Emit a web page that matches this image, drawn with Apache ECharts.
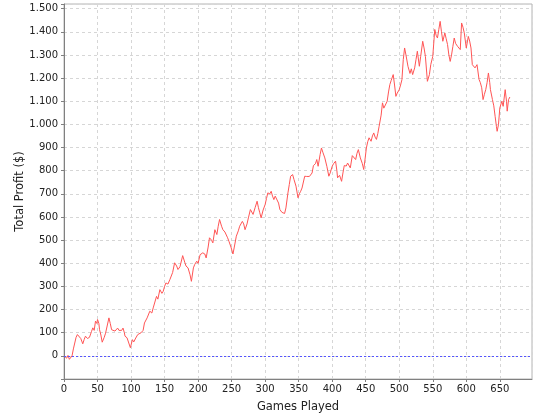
<!DOCTYPE html>
<html>
<head>
<meta charset="utf-8">
<script src="https://cdn.jsdelivr.net/npm/echarts@6/dist/echarts.min.js"></script>
<style>html,body{margin:0;padding:0;background:#fff}#c{width:540px;height:420px}</style>
</head>
<body>
<div id="c"></div>
<script>
var games = [0,2,4,6,8,10,12,14,16,18,20,22,25,28,30,32,35,38,41,43,45,47,49,50,52,53,55,57,60,62,64,67,69,71,73,76,78,80,82,84,86,88,90,91,94,96,99,102,104,107,110,112,115,118,120,122,124,126,128,131,133,135,138,140,143,146,148,150,152,155,158,160,162,165,168,170,173,177,180,182,185,188,190,193,195,198,200,203,207,210,212,215,217,220,222,225,228,230,232,235,237,240,242,244,246,249,252,254,257,260,262,264,266,268,270,273,275,278,280,282,285,288,290,292,294,297,300,302,304,307,309,311,313,315,317,320,322,325,327,329,331,334,336,338,341,343,346,349,351,353,355,357,359,362,364,366,368,370,372,375,377,379,382,384,386,389,392,395,397,400,402,405,407,408,411,414,416,418,421,423,425,427,430,432,435,437,439,442,445,447,449,451,453,455,458,460,462,464,466,468,470,473,475,477,479,482,484,486,488,491,493,495,497,500,502,504,506,508,510,513,516,518,520,523,525,527,530,532,535,537,539,542,545,547,550,553,555,557,559,561,563,565,568,570,572,574,576,578,580,582,584,587,589,591,593,595,597,600,603,605,607,609,611,613,616,619,621,623,625,627,629,631,633,635,636,639,641,643,645,646,648,650,653,655,658,660,661,663,665];
var profit = [0,7,-10,2,-15,-23,0,30,38,80,92,85,75,52,70,85,75,80,105,121,110,150,140,157,140,113,90,59,80,98,105,164,140,113,120,107,100,120,110,107,110,120,100,85,78,70,35,70,60,77,92,85,100,110,142,135,164,160,193,185,207,200,257,245,286,270,279,300,315,310,330,330,360,402,388,373,385,433,405,388,380,350,322,380,395,409,400,437,445,440,423,470,510,500,488,545,524,560,589,560,545,535,531,510,495,470,440,470,517,540,560,555,581,570,545,570,596,632,625,611,640,668,640,618,596,630,654,680,704,700,711,690,675,690,697,660,632,620,625,615,639,704,740,776,783,762,733,683,700,711,725,733,776,775,783,775,769,790,822,830,848,819,870,898,880,855,819,776,790,819,830,841,800,769,780,754,790,822,820,833,825,812,865,860,848,875,891,855,830,805,850,898,925,942,927,950,963,945,935,960,992,1040,1093,1070,1064,1100,1140,1172,1190,1215,1170,1121,1135,1150,1170,1193,1280,1330,1300,1251,1220,1240,1215,1244,1280,1316,1251,1294,1359,1330,1294,1186,1215,1258,1294,1410,1385,1373,1410,1445,1400,1359,1395,1370,1345,1300,1272,1300,1337,1373,1350,1337,1345,1323,1438,1420,1395,1330,1380,1360,1330,1258,1260,1244,1258,1194,1180,1158,1107,1130,1150,1180,1222,1180,1150,1107,1080,1035,990,970,999,1071,1100,1078,1150,1100,1057,1107,1118];
var xTicks = [0,50,100,150,200,250,300,350,400,450,500,550,600,650];
var yTicks = [0,100,200,300,400,500,600,700,800,900,1000,1100,1200,1300,1400,1500];

var data = games.map(function(g,i){return [g, profit[i]];});
function fmtY(v){
  if (yTicks.indexOf(v) < 0) return '';
  if (v >= 1000) { var r = String(v % 1000); while (r.length < 3) r = '0' + r; return Math.floor(v/1000) + '.' + r; }
  return String(v);
}
function fmtX(v){ return xTicks.indexOf(v) < 0 ? '' : String(v); }

var chart = echarts.init(document.getElementById('c'), null, {renderer:'canvas'});
chart.setOption({
  animation: false,
  backgroundColor: '#ffffff',
  grid: {left: 64, right: 8, top: 4, bottom: 41, show: true, borderColor: '#b4b4b4', borderWidth: 1, backgroundColor: '#ffffff'},
  xAxis: {
    type: 'value', min: 0, max: 698, interval: 50,
    name: 'Games Played', nameLocation: 'middle', nameGap: 22, nameMoveOverlap: false,
    nameTextStyle: {fontFamily: 'DejaVu Sans', fontSize: 11.5, color: '#222'},
    axisLine: {show: true, onZero: false, lineStyle: {color: '#808080', width: 1}},
    axisTick: {show: true, length: 3, lineStyle: {color: '#808080'}},
    axisLabel: {formatter: fmtX, fontFamily: 'DejaVu Sans', fontSize: 10, color: '#222', margin: 5, showMaxLabel: false},
    splitLine: {show: true, lineStyle: {color: '#d6d6d6', type: [3,3], width: 1}}
  },
  yAxis: {
    type: 'value', min: -100, max: 1520, interval: 100,
    name: 'Total Profit ($)', nameLocation: 'middle', nameGap: 38, nameMoveOverlap: false,
    nameTextStyle: {fontFamily: 'DejaVu Sans', fontSize: 11.5, color: '#222'},
    axisLine: {show: true, onZero: false, lineStyle: {color: '#808080', width: 1}},
    axisTick: {show: true, length: 3, lineStyle: {color: '#808080'}},
    axisLabel: {formatter: fmtY, fontFamily: 'DejaVu Sans', fontSize: 10, color: '#222', margin: 6},
    splitLine: {show: true, lineStyle: {color: '#d6d6d6', type: [3,3], width: 1}}
  },
  series: [{
    type: 'line', data: data, symbol: 'none', showSymbol: false,
    lineStyle: {color: '#ff5555', width: 1},
    itemStyle: {color: '#ff5555'},
    markLine: {
      silent: true, symbol: ['none','none'], label: {show: false},
      lineStyle: {color: '#5555ff', type: [2,2], width: 1},
      data: [{yAxis: 0}]
    }
  }]
});
</script>
</body>
</html>
